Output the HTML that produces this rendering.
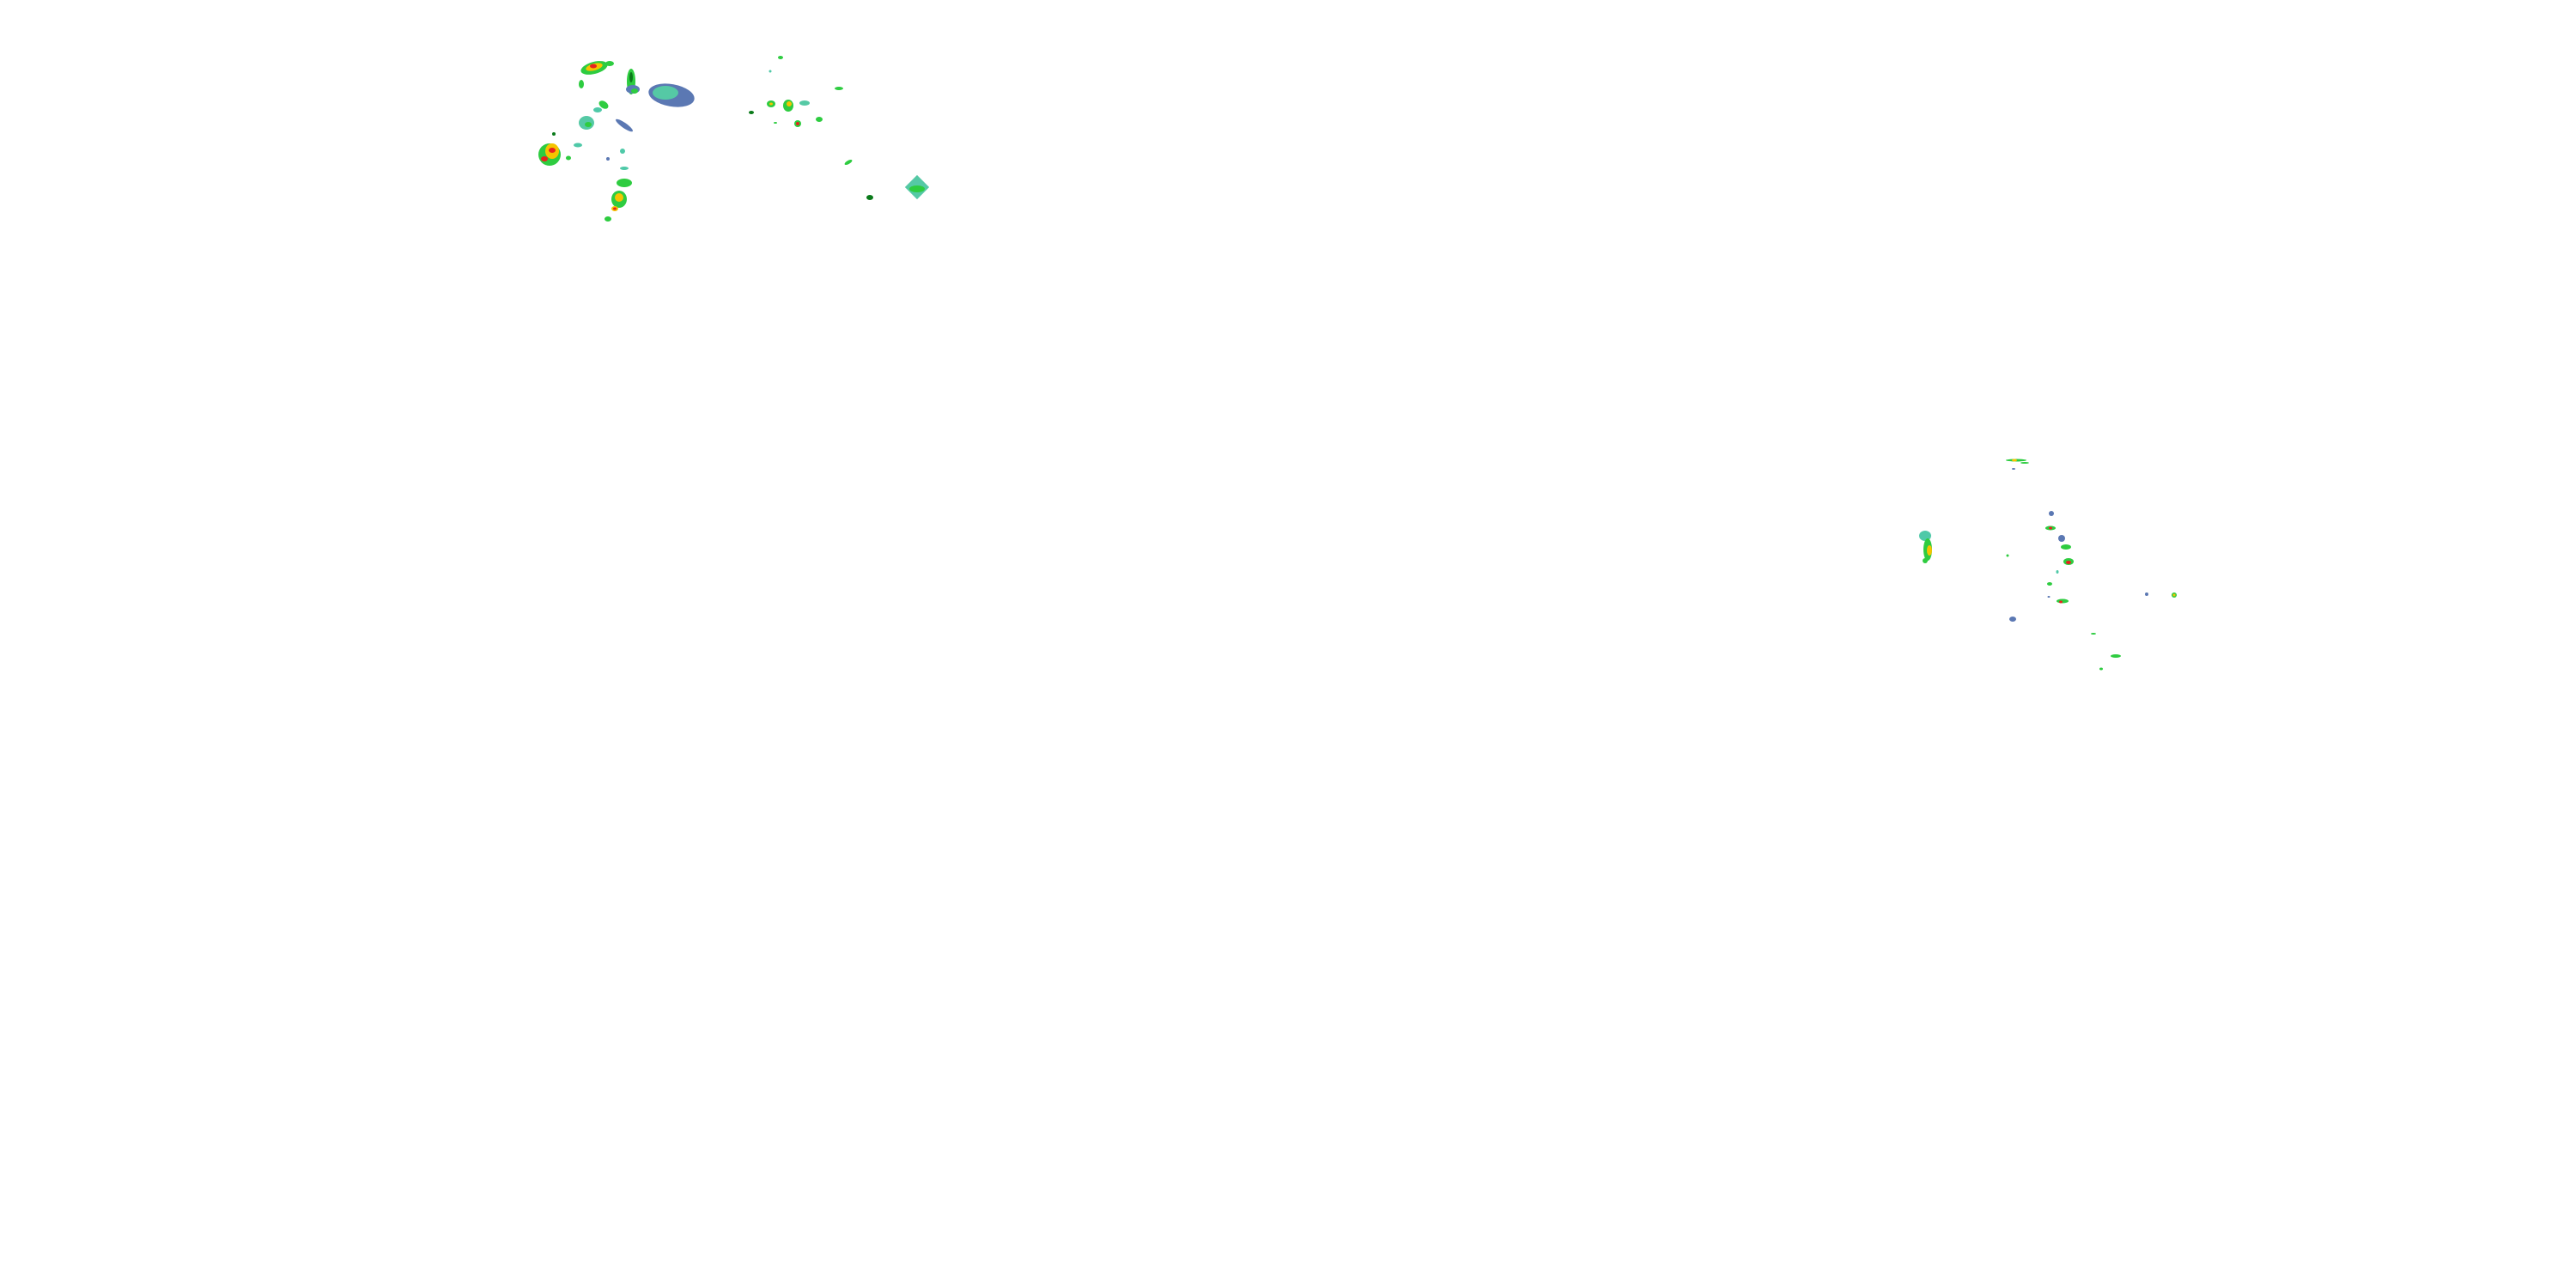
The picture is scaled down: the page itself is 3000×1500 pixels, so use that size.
<!DOCTYPE html>
<html><head><meta charset="utf-8"><style>html,body{margin:0;padding:0;background:#fff}svg{display:block}</style></head>
<body>
<svg width="3000" height="1500" viewBox="0 0 3000 1500" xmlns="http://www.w3.org/2000/svg">
<defs>
<g id="s"><ellipse rx="10" ry="6" fill="#4fc9a8"/><ellipse rx="7" ry="4" fill="#2ecc40"/><ellipse rx="3" ry="2" fill="#0a7a1a"/></g>
</defs>
<g>
<!-- top-left cluster -->
<ellipse cx="692" cy="79" rx="16" ry="7" fill="#2ecc40" transform="rotate(-15 692 79)"/>
<ellipse cx="692" cy="78" rx="10" ry="4" fill="#f5c400" transform="rotate(-15 692 78)"/>
<ellipse cx="691" cy="77" rx="4" ry="2.5" fill="#e8231e"/>
<ellipse cx="710" cy="74" rx="5" ry="3" fill="#2ecc40"/>
<ellipse cx="735" cy="95" rx="5" ry="15" fill="#2ecc40"/>
<ellipse cx="735" cy="90" rx="2" ry="6" fill="#0a7a1a"/>
<ellipse cx="737" cy="104" rx="8" ry="5" fill="#5b7bb5"/>
<ellipse cx="739" cy="106" rx="4" ry="3" fill="#2ecc40"/>
<ellipse cx="677" cy="98" rx="3" ry="5" fill="#2ecc40"/>
<ellipse cx="782" cy="111" rx="27" ry="13" fill="#5b78b3" transform="rotate(10 782 111)"/>
<ellipse cx="775" cy="108" rx="15" ry="8" fill="#55c9a5"/>
<ellipse cx="703" cy="122" rx="6" ry="4" fill="#2ecc40" transform="rotate(35 703 122)"/>
<ellipse cx="696" cy="128" rx="5" ry="3" fill="#4fc9a8"/>
<ellipse cx="683" cy="143" rx="9" ry="8" fill="#55c9a5"/>
<ellipse cx="685" cy="145" rx="4" ry="3" fill="#2ecc40"/>
<ellipse cx="727" cy="146" rx="12" ry="3" fill="#5b78b3" transform="rotate(35 727 146)"/>
<ellipse cx="640" cy="180" rx="13" ry="13" fill="#2ecc40"/>
<ellipse cx="643" cy="176" rx="8" ry="9" fill="#f5c400"/>
<ellipse cx="643" cy="175" rx="4" ry="3" fill="#e8231e"/>
<ellipse cx="634" cy="185" rx="4" ry="3" fill="#e8231e"/>
<ellipse cx="662" cy="184" rx="3" ry="2.5" fill="#2ecc40"/>
<ellipse cx="673" cy="169" rx="5" ry="2.5" fill="#4fc9a8"/>
<ellipse cx="725" cy="176" rx="3" ry="3" fill="#4fc9a8"/>
<ellipse cx="708" cy="185" rx="2" ry="2" fill="#5b78b3"/>
<ellipse cx="727" cy="196" rx="5" ry="2" fill="#4fc9a8"/>
<ellipse cx="727" cy="213" rx="9" ry="5" fill="#2ecc40"/>
<ellipse cx="721" cy="232" rx="9" ry="10" fill="#2ecc40"/>
<ellipse cx="721" cy="230" rx="5" ry="5" fill="#f5c400"/>
<ellipse cx="716" cy="243" rx="4" ry="3" fill="#f5c400"/>
<ellipse cx="716" cy="243" rx="2" ry="1.5" fill="#e8231e"/>
<ellipse cx="708" cy="255" rx="4" ry="3" fill="#2ecc40"/>
<ellipse cx="645" cy="156" rx="2" ry="2" fill="#0a7a1a"/>
<!-- top-middle -->
<ellipse cx="909" cy="67" rx="3" ry="2" fill="#2ecc40"/>
<ellipse cx="897" cy="83" rx="1.5" ry="1.5" fill="#4fc9a8"/>
<ellipse cx="977" cy="103" rx="5" ry="2" fill="#2ecc40"/>
<ellipse cx="898" cy="121" rx="5" ry="4" fill="#2ecc40"/>
<ellipse cx="898" cy="121" rx="2" ry="1.5" fill="#f5c400"/>
<ellipse cx="918" cy="123" rx="6" ry="7" fill="#2ecc40"/>
<ellipse cx="919" cy="121" rx="3" ry="3" fill="#f5c400"/>
<ellipse cx="937" cy="120" rx="6" ry="3" fill="#55c9a5"/>
<ellipse cx="929" cy="144" rx="4" ry="4" fill="#2ecc40"/>
<ellipse cx="929" cy="144" rx="2" ry="2" fill="#e8231e"/>
<ellipse cx="954" cy="139" rx="4" ry="3" fill="#2ecc40"/>
<ellipse cx="875" cy="131" rx="3" ry="2" fill="#0a7a1a"/>
<ellipse cx="903" cy="143" rx="2" ry="1" fill="#2ecc40"/>
<ellipse cx="988" cy="189" rx="5" ry="2" fill="#2ecc40" transform="rotate(-30 988 189)"/>
<rect x="1058" y="208" width="20" height="20" fill="#55c9a5" transform="rotate(45 1068 218)"/>
<ellipse cx="1068" cy="220" rx="9" ry="4" fill="#2ecc40"/>
<ellipse cx="1013" cy="230" rx="4" ry="3" fill="#0a7a1a"/>
<!-- right cluster -->
<ellipse cx="2348" cy="536" rx="12" ry="1.5" fill="#2ecc40"/>
<ellipse cx="2346" cy="536" rx="3" ry="1.5" fill="#f5c400"/>
<ellipse cx="2358" cy="539" rx="5" ry="1" fill="#2ecc40"/>
<ellipse cx="2345" cy="546" rx="2" ry="1" fill="#5b78b3"/>
<ellipse cx="2242" cy="624" rx="7" ry="6" fill="#4fc9a8"/>
<ellipse cx="2245" cy="640" rx="5" ry="13" fill="#2ecc40"/>
<ellipse cx="2247" cy="641" rx="3" ry="6" fill="#f5c400"/>
<ellipse cx="2242" cy="653" rx="3" ry="3" fill="#2ecc40"/>
<ellipse cx="2338" cy="647" rx="1.5" ry="1.5" fill="#2ecc40"/>
<ellipse cx="2389" cy="598" rx="3" ry="3" fill="#5b78b3"/>
<ellipse cx="2388" cy="615" rx="6" ry="2.5" fill="#2ecc40"/>
<ellipse cx="2388" cy="615" rx="2" ry="1.5" fill="#e8231e"/>
<ellipse cx="2401" cy="627" rx="4" ry="4" fill="#5b78b3"/>
<ellipse cx="2406" cy="637" rx="6" ry="3" fill="#2ecc40"/>
<ellipse cx="2409" cy="654" rx="6" ry="4" fill="#2ecc40"/>
<ellipse cx="2409" cy="655" rx="3" ry="2" fill="#e8231e"/>
<ellipse cx="2396" cy="666" rx="1.5" ry="2" fill="#4fc9a8"/>
<ellipse cx="2387" cy="680" rx="3" ry="2" fill="#2ecc40"/>
<ellipse cx="2402" cy="700" rx="7" ry="2.5" fill="#2ecc40"/>
<ellipse cx="2400" cy="701" rx="2" ry="1.5" fill="#e8231e"/>
<ellipse cx="2386" cy="695" rx="1.5" ry="1" fill="#5b78b3"/>
<ellipse cx="2344" cy="721" rx="4" ry="3" fill="#5b78b3"/>
<ellipse cx="2532" cy="693" rx="3" ry="3" fill="#2ecc40"/>
<ellipse cx="2532" cy="693" rx="1.5" ry="1.5" fill="#f5c400"/>
<ellipse cx="2500" cy="692" rx="2" ry="2" fill="#5b78b3"/>
<ellipse cx="2464" cy="764" rx="6" ry="2" fill="#2ecc40"/>
<ellipse cx="2447" cy="779" rx="2" ry="1.5" fill="#2ecc40"/>
<ellipse cx="2438" cy="738" rx="3" ry="1" fill="#2ecc40"/>
</g>
</svg>
</body></html>
